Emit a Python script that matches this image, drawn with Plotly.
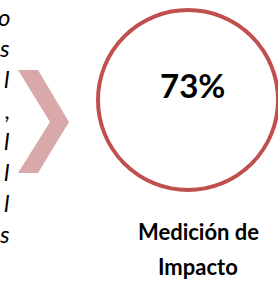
import plotly.graph_objects as go

# Data
value_pct = 73
label_lines = ["Medición de", "Impacto"]
left_text_fragments = ["o", "s", "l", ",", "l", "l", "l", "s"]
left_text_baselines = [24, 55, 86, 117, 148, 179, 210, 241]

W, H = 278, 283
fig = go.Figure()

# invisible trace to set up axes
fig.add_trace(go.Scatter(x=[0, W], y=[0, H], mode="markers",
                         marker=dict(opacity=0), hoverinfo="skip", showlegend=False))

# Chevron
chev_x = [18, 38, 69, 38, 18, 50, 18]
chev_y = [70, 70, 122, 173, 173, 122, 70]
path = "M " + " L ".join(f"{x},{y}" for x, y in zip(chev_x, chev_y)) + " Z"
fig.add_shape(type="path", path=path, xref="x", yref="y",
              fillcolor="#d9a9aa", line=dict(width=0))

# Circle
cx, cy, r = 188, 100, 90
fig.add_shape(type="circle", xref="x", yref="y",
              x0=cx - r, x1=cx + r, y0=cy - r, y1=cy + r,
              line=dict(color="#c0504d", width=4), fillcolor="rgba(0,0,0,0)")

# Value text
fig.add_annotation(x=192, y=85, xref="x", yref="y", text=f"<b>{value_pct}%</b>",
                   showarrow=False, font=dict(family="Lato", size=33, color="#000000"),
                   xanchor="center", yanchor="middle")

# Label
for i, line in enumerate(label_lines):
    fig.add_annotation(x=198, y=231 + i * 35, xref="x", yref="y", text=f"<b>{line}</b>",
                       showarrow=False, font=dict(family="Lato", size=22, color="#000000"),
                       xanchor="center", yanchor="middle")

# Cut-off italic paragraph on the left
for frag, b in zip(left_text_fragments, left_text_baselines):
    fig.add_annotation(x=11, y=b - 8, xref="x", yref="y", text=f"<i>{frag}</i>",
                       showarrow=False, font=dict(family="Lato", size=24, color="#000000"),
                       xanchor="right", yanchor="middle", borderpad=0)

fig.update_layout(
    width=W, height=H, margin=dict(l=0, r=0, t=0, b=0),
    paper_bgcolor="white", plot_bgcolor="white",
    xaxis=dict(range=[0, W], visible=False, fixedrange=True),
    yaxis=dict(range=[H, 0], visible=False, fixedrange=True),
    showlegend=False,
)

fig.write_html("out.html", config={"displayModeBar": False},
               post_script="document.body.style.margin='0';document.body.style.overflow='hidden';")
